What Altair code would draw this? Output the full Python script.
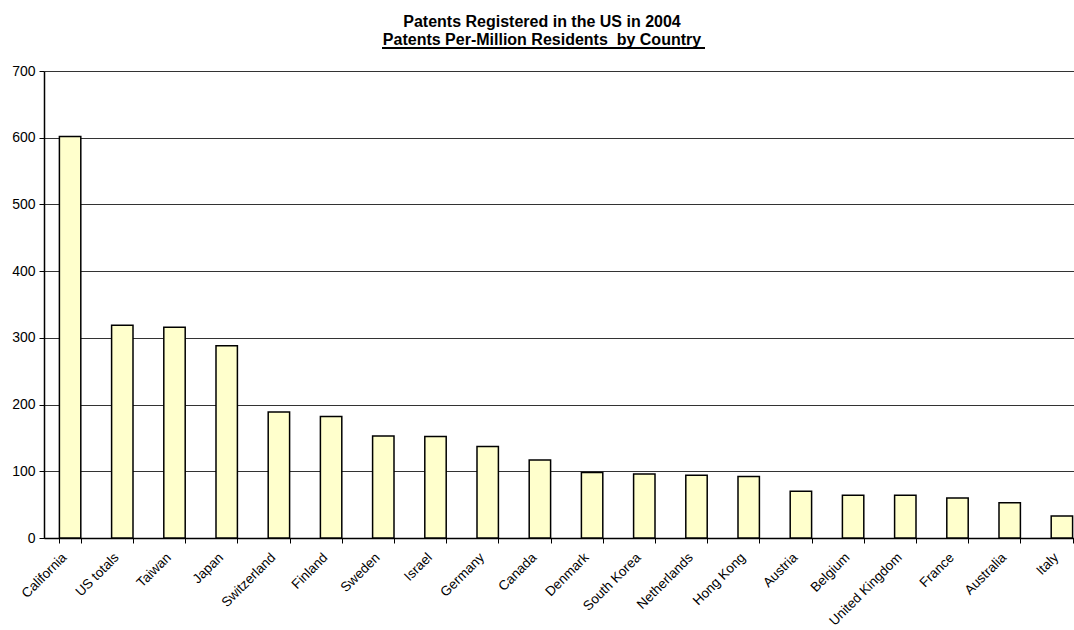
import altair as alt
import pandas as pd

countries = ["California", "US totals", "Taiwan", "Japan", "Switzerland", "Finland",
             "Sweden", "Israel", "Germany", "Canada", "Denmark", "South Korea",
             "Netherlands", "Hong Kong", "Austria", "Belgium", "United Kingdom",
             "France", "Australia", "Italy"]
patents = [602, 319, 316, 288, 189, 182, 153, 152, 137, 117, 98, 96, 94, 92,
           70, 64, 64, 60, 53, 33]

df = pd.DataFrame({"country": countries, "patents": patents})

FONT = "Liberation Sans"

bars = alt.Chart(df).mark_bar(
    fill="#FFFFCC", stroke="#000000", strokeWidth=1.5
).encode(
    x=alt.X("country:N", sort=countries, title=None,
            scale=alt.Scale(range=[0, 1044], paddingInner=0.59, paddingOuter=0.295),
            axis=alt.Axis(labelAngle=-45, labelAlign="right", labelBaseline="middle",
                          labelFont=FONT, labelFontSize=13.5, labelColor="#000",
                          labelPadding=12, labelOffset=-6, tickBand="extent", tickSize=5,
                          tickColor="#000", domainColor="#000", domainWidth=1.5,
                          grid=False)),
    y=alt.Y("patents:Q", title=None,
            scale=alt.Scale(domain=[0, 700], nice=False),
            axis=alt.Axis(values=[0, 100, 200, 300, 400, 500, 600, 700],
                          labelFont=FONT, labelFontSize=14, labelColor="#000",
                          labelPadding=4, tickSize=5, tickColor="#000",
                          domainColor="#000", domainWidth=1.5,
                          grid=True, gridColor="#333", gridWidth=1))
)

underline = alt.Chart(df).mark_rule(color="#000", strokeWidth=2).encode(
    x=alt.value(338), x2=alt.value(661), y=alt.value(-23)
)

chart = alt.layer(bars, underline).properties(
    width=1030, height=467,
    title=alt.TitleParams(
        text=["Patents Registered in the US in 2004",
              "\u00a0Patents Per-Million Residents \u00a0by Country"],
        font=FONT, fontSize=16, fontWeight="bold", color="#000",
        anchor="middle", dx=-17, offset=-1, lineHeight=18.5
    ),
    autosize=alt.AutoSizeParams(type="none"),
    padding={"left": 44, "top": 71, "right": 0, "bottom": 92}
).configure_view(stroke=None)

chart.save("out.html", embed_options={"renderer": "svg", "actions": False})
